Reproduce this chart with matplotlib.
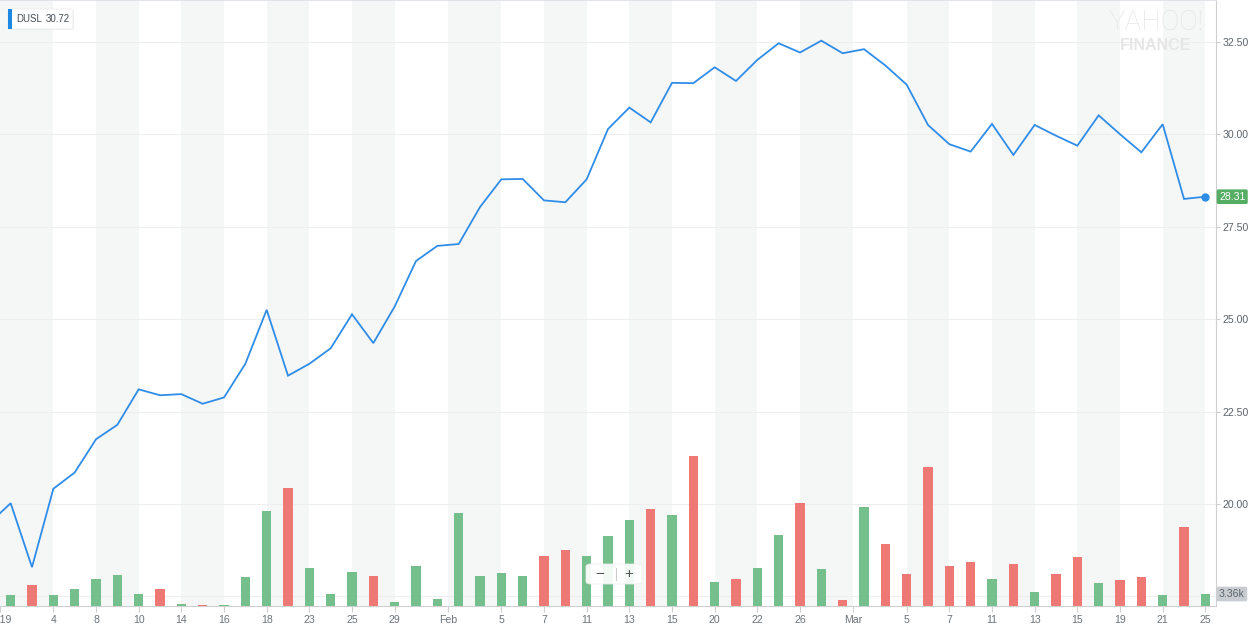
import numpy as np
import pandas as pd
import matplotlib
matplotlib.use('Agg')
import matplotlib.pyplot as plt
from matplotlib import transforms
from matplotlib.patches import FancyBboxPatch, Rectangle
from matplotlib.lines import Line2D

plt.rcParams['font.family'] = ['Liberation Sans', 'DejaVu Sans']

# ----------------------------------------------------------------
#  data  (DUSL daily close, Dec 31 2018 .. Mar 25 2019)
# ----------------------------------------------------------------
holidays = ['2019-01-01', '2019-01-21', '2019-02-18']

close = [19.48,
         20.02, 18.29, 20.41, 20.85, 21.75, 22.14, 23.10, 22.94, 22.97, 22.71,
         22.88, 23.79, 25.25, 23.47, 23.79, 24.21, 25.13, 24.35, 25.34, 26.57,
         26.98, 27.03, 28.03, 28.78, 28.79, 28.21, 28.16, 28.78, 30.14, 30.72,
         30.32, 31.39, 31.38, 31.81, 31.44, 32.01, 32.46, 32.21, 32.53, 32.19,
         32.30, 31.86, 31.34, 30.25, 29.73, 29.53, 30.28, 29.44, 30.25, 29.96,
         29.69, 30.51, 30.00, 29.51, 30.27, 28.25, 28.31]

# volume in thousands, Jan 2 .. Mar 25
volume_k = [3.1, 5.9, 3.1, 4.8, 7.6, 8.7, 3.4, 4.8, 0.6, 0.3,
            0.15, 8.1, 26.6, 33.0, 10.6, 3.4, 9.5, 8.4, 1.1, 11.2,
            2.0, 26.0, 8.4, 9.2, 8.4, 14.0, 15.7, 14.0, 19.6, 24.1,
            27.2, 25.5, 42.0, 6.7, 7.6, 10.6, 19.9, 28.8, 10.4, 1.7,
            27.7, 17.4, 9.0, 38.9, 11.2, 12.3, 7.6, 11.8, 3.9, 9.0,
            13.7, 6.4, 7.3, 8.1, 3.1, 22.1, 3.36]

# up (g) / down (r) day for each volume bar
direction = list('grgggggrgrgggrgggrggggggg'
                 'rrgggrgrgrggrgrgrrrrrgrgrrgrrgrg')

tick_dates = ['2019-01-02', '2019-01-04', '2019-01-08', '2019-01-10',
              '2019-01-14', '2019-01-16', '2019-01-18', '2019-01-23',
              '2019-01-25', '2019-01-29', '2019-02-01', '2019-02-05',
              '2019-02-07', '2019-02-11', '2019-02-13', '2019-02-15',
              '2019-02-20', '2019-02-22', '2019-02-26', '2019-03-01',
              '2019-03-05', '2019-03-07', '2019-03-11', '2019-03-13',
              '2019-03-15', '2019-03-19', '2019-03-21', '2019-03-25']
tick_labels = ['2019', '4', '8', '10', '14', '16', '18', '23', '25', '29',
               'Feb', '5', '7', '11', '13', '15', '20', '22', '26',
               'Mar', '5', '7', '11', '13', '15', '19', '21', '25']

price_ticks = [20.0, 22.5, 25.0, 27.5, 30.0, 32.5]
grid_levels = [17.5] + price_ticks

# ----------------------------------------------------------------
#  layout helpers
# ----------------------------------------------------------------
W, H = 1256, 629
LINE_C = '#2f8de8'
GREEN_C = '#74bf8c'
RED_C = '#ee7873'
BAND_C = '#f5f6f6'
TEXT_C = '#5b636a'


def fx(px):
    return px / W


def fy(py):
    return 1 - py / H


dates = pd.bdate_range('2018-12-31', '2019-03-25')
dates = dates[~dates.isin(pd.to_datetime(holidays))]
x = np.arange(len(dates))

# month / year labels sit on the boundary between two trading days
tick_pos = []
for d in tick_dates:
    loc = dates.get_loc(pd.Timestamp(d))
    new_month = dates[loc].month != dates[loc - 1].month
    tick_pos.append(loc - 0.5 if new_month else loc)

fig = plt.figure(figsize=(W / 100, H / 100), dpi=100)
rect = [0, fy(606), fx(1216), 606 / H]
axv = fig.add_axes(rect)
ax = fig.add_axes(rect, sharex=axv)
ax.set_facecolor('none')
axv.set_axis_off()

# alternating background bands between labelled ticks
for k in range(len(tick_pos) - 1):
    if k % 2 == 0:
        axv.axvspan(tick_pos[k], tick_pos[k + 1], color=BAND_C, lw=0, zorder=0)

# horizontal price grid, drawn under the volume bars
grid_tr = transforms.blended_transform_factory(axv.transAxes, ax.transData)
for v in grid_levels:
    axv.add_line(Line2D([0, 1], [v, v], transform=grid_tr,
                        color='#eeeeee', lw=0.8, zorder=1))

bar_colors = [GREEN_C if c == 'g' else RED_C for c in direction]
axv.bar(x[1:], volume_k, width=0.43, color=bar_colors, lw=0, zorder=2)
axv.set_ylim(0, 606 * 0.28)

# price line
ax.plot(x, close, color=LINE_C, lw=1.3, zorder=3, solid_joinstyle='miter')
ax.plot(x[-1], close[-1], 'o', ms=5, color=LINE_C, zorder=4)
ax.set_xlim(0.5, 57.5)
ax.set_ylim(17.24, 33.63)

ax.spines['left'].set_visible(False)
ax.spines['right'].set_color('#cfcfcf')
ax.spines['bottom'].set_color('#cfcfcf')
ax.spines['top'].set_color('#e0e3e8')
ax.spines['top'].set_linewidth(1.5)

ax.yaxis.tick_right()
ax.set_yticks(price_ticks)
ax.set_yticklabels([f'{v:.2f}' for v in price_ticks])
ax.tick_params(axis='y', length=3, color='#cfcfcf', labelcolor=TEXT_C,
               labelsize=7.6, pad=2)
ax.set_xticks(tick_pos)
ax.set_xticklabels(tick_labels)
ax.tick_params(axis='x', length=4, color='#cfcfcf', labelcolor='#6b737a',
               labelsize=7.6, pad=2.5)

# last price / last volume flags on the right axis
tr_p = transforms.blended_transform_factory(ax.transAxes, ax.transData)
ax.text(1.0025, close[-1], f'{close[-1]:.2f}', transform=tr_p, ha='left',
        va='center', color='white', fontsize=7.6, clip_on=False, zorder=6,
        bbox=dict(boxstyle='round,pad=0.22,rounding_size=0.15',
                  fc='#55ad63', ec='none'))
tr_v = transforms.blended_transform_factory(ax.transAxes, axv.transData)
ax.text(1.0025, volume_k[-1], f'{volume_k[-1]:.2f}k', transform=tr_v,
        ha='left', va='center', color=TEXT_C, fontsize=7.6, clip_on=False,
        zorder=6, bbox=dict(boxstyle='round,pad=0.22,rounding_size=0.15',
                            fc='#c9cdd2', ec='none'))

# watermark
fig.text(fx(1156), fy(23), 'YAHOO!', ha='center', va='center',
         fontsize=20, color='#e6e6e6', family=['Roboto', 'DejaVu Sans'],
         weight='light')
fig.text(fx(1156), fy(45), 'FINANCE', ha='center', va='center',
         fontsize=11.5, color='#e6e6e6', weight='bold')

# legend chip (top-left)
fig.add_artist(FancyBboxPatch((fx(9), fy(30)), 65 / W, 20 / H,
                              boxstyle='round,pad=0,rounding_size=0.003',
                              transform=fig.transFigure, fc='#e9e9e9',
                              ec='none', alpha=0.6))
fig.add_artist(FancyBboxPatch((fx(8), fy(29)), 65 / W, 20 / H,
                              boxstyle='round,pad=0,rounding_size=0.003',
                              transform=fig.transFigure, fc='white',
                              ec='#ececec', lw=0.6))
fig.add_artist(Rectangle((fx(8), fy(29)), 3.5 / W, 20 / H,
                         transform=fig.transFigure, fc='#1e88e5', ec='none'))
fig.text(fx(16), fy(19.5), 'DUSL', ha='left', va='center', fontsize=7,
         color='#464e56')
fig.text(fx(46), fy(19.5), f'{close[30]:.2f}', ha='left', va='center',
         fontsize=7, color='#464e56')

# zoom control
fig.add_artist(FancyBboxPatch((fx(586), fy(584)), 56 / W, 20 / H,
                              boxstyle='round,pad=0,rounding_size=0.004',
                              transform=fig.transFigure, fc='white',
                              ec='#eeeeee', lw=0.6, alpha=0.92))
fig.add_artist(Line2D([fx(615.5), fx(615.5)], [fy(568), fy(580)],
                      transform=fig.transFigure, color='#cccccc', lw=0.8))
fig.text(fx(600), fy(574), '\u2212', ha='center', va='center', fontsize=11,
         color='#555555')
fig.text(fx(629), fy(574), '+', ha='center', va='center', fontsize=11,
         color='#555555')

fig.savefig('out.png', dpi=100, facecolor='white')
